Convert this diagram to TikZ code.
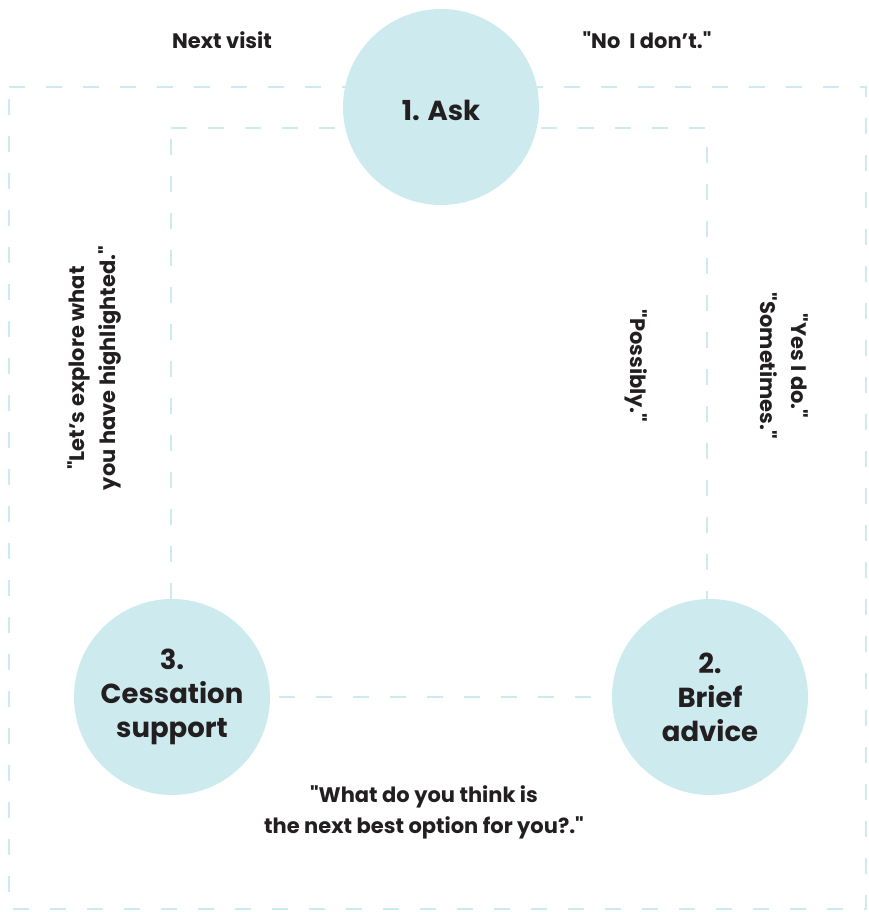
\documentclass[tikz,border=0pt]{standalone}
\usepackage{fontspec}
\setmainfont{Poppins}[Ligatures=TeXOff]
\definecolor{lblue}{HTML}{CDEBEF}
\definecolor{txt}{HTML}{231F20}
\begin{document}
\begin{tikzpicture}[x=1pt,y=-1pt,
  dline/.style={draw=lblue,line width=2.6pt,dash pattern=on 16pt off 21pt},
  stage/.style={circle,fill=lblue,minimum size=196pt,inner sep=0pt,align=center,font=\fontsize{27.5}{34}\selectfont\bfseries,text=txt},
  lab/.style={align=center,font=\fontsize{21}{31}\selectfont\bfseries,text=txt,inner sep=0pt}]
\useasboundingbox (0,0) rectangle (869,912);
% outer and inner frames
\coordinate (o1) at (9,87);
\coordinate (o2) at (866,87);
\coordinate (o3) at (866,909);
\coordinate (o4) at (9,909);
\coordinate (i1) at (171,128);
\coordinate (i2) at (707,128);
\coordinate (i3) at (707,697);
\coordinate (i4) at (171,697);
\draw[dline] (o1) -- (o2) -- (o3) -- (o4) -- cycle;
\draw[dline] (i1) -- (i2) -- (i3) -- (i4) -- cycle;
% stages
\node[stage] (ask) at (441,107) {\raisebox{-3pt}[\height][\depth]{1. Ask}};
\node[stage] (advice) at (710,697) {2.\\Brief\\advice};
\node[stage] (support) at (172,697) {3.\\Cessation\\support};
% labels
\node[lab] (next) at (222,40) {Next visit};
\node[lab] (no) at (647,40) {"No\ \ I don’t."};
\node[lab,rotate=-90] (yes) at (784,366) {"Yes I do."\\"Sometimes."};
\node[lab,rotate=-90] (poss) at (636,366) {"Possibly."};
\node[lab,rotate=90] (explore) at (94,368) {"Let’s explore what\\you have highlighted."};
\node[lab] (what) at (424,812) {"What do you think is\\the next best option for you?."};
\end{tikzpicture}
\end{document}
